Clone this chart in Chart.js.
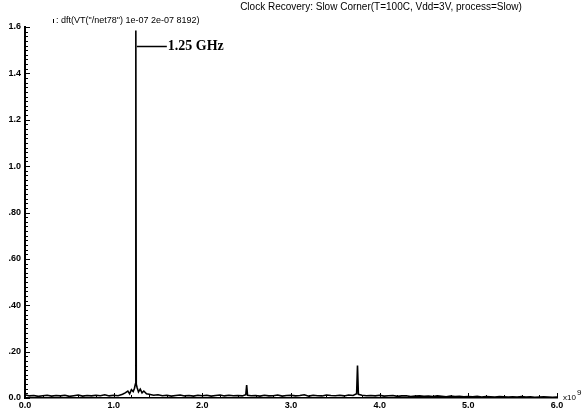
<!DOCTYPE html>
<html>
<head>
<meta charset="utf-8">
<script src="https://cdn.jsdelivr.net/npm/chart.js@4/dist/chart.umd.min.js"></script>
<style>
  html, body { margin: 0; padding: 0; background: #fff; }
  #wrap { width: 584px; height: 413px; position: relative; }
</style>
</head>
<body>
<div id="wrap"><canvas id="spectrum" width="584" height="413"></canvas></div>
<script>
// chart text
const chartTitle = 'Clock Recovery: Slow Corner(T=100C, Vdd=3V, process=Slow)';
const traceLabel = ': dft(VT("/net78") 1e-07 2e-07 8192)';
const peakLabel = '1.25 GHz';
const peakFreq = 1.25;
const peakLabelLevel = 1.52;

// axis tick labels
const xTickLabels = ['0.0', '1.0', '2.0', '3.0', '4.0', '5.0', '6.0'];
const yTickLabels = ['0.0', '.20', '.40', '.60', '.80', '1.0', '1.2', '1.4', '1.6'];

// frequency (GHz, axis shown x10^9) and magnitude
const freqGHz = [
    0.00, 0.05, 0.10, 0.15, 0.20, 0.25, 0.30, 0.35, 0.40, 0.45,
    0.50, 0.55, 0.60, 0.65, 0.70, 0.75, 0.80, 0.85, 0.90, 0.95,
    1.00, 1.05, 1.10, 1.13, 1.16, 1.18, 1.20, 1.22, 1.235, 1.245,
    1.25, 1.255, 1.265, 1.28, 1.30, 1.32, 1.34, 1.37, 1.40, 1.45,
    1.50, 1.55, 1.60, 1.65, 1.70, 1.75, 1.80, 1.85, 1.90, 1.95,
    2.00, 2.05, 2.10, 2.15, 2.20, 2.25, 2.30, 2.35, 2.40, 2.45,
    2.49, 2.50, 2.51, 2.55,
    2.60, 2.65, 2.70, 2.75, 2.80, 2.85, 2.90, 2.95,
    3.00, 3.05, 3.10, 3.15, 3.20, 3.25, 3.30, 3.35, 3.40, 3.45,
    3.50, 3.55, 3.60, 3.65, 3.70, 3.74, 3.75, 3.76, 3.80, 3.85, 3.90, 3.95,
    4.00, 4.05, 4.10, 4.15, 4.20, 4.25, 4.30, 4.35, 4.40, 4.45,
    4.50, 4.55, 4.60, 4.65, 4.70, 4.75, 4.80, 4.85, 4.90, 4.95,
    5.00, 5.05, 5.10, 5.15, 5.20, 5.25, 5.30, 5.35, 5.40, 5.45,
    5.50, 5.55, 5.60, 5.65, 5.70, 5.75, 5.80, 5.85, 5.90, 5.95,
    6.00
];
const magnitude = [
    0.014, 0.009, 0.011, 0.007, 0.010, 0.012, 0.008, 0.011, 0.009, 0.012,
    0.007, 0.010, 0.013, 0.008, 0.011, 0.009, 0.012, 0.010, 0.014, 0.009,
    0.012, 0.010, 0.016, 0.022, 0.030, 0.018, 0.036, 0.028, 0.042, 0.060,
    1.585, 0.060, 0.044, 0.026, 0.038, 0.022, 0.030, 0.018, 0.016, 0.012,
    0.014, 0.010, 0.012, 0.008, 0.011, 0.013, 0.009, 0.011, 0.008, 0.012,
    0.010, 0.012, 0.008, 0.011, 0.013, 0.009, 0.012, 0.010, 0.011, 0.009,
    0.014, 0.056, 0.012, 0.010,
    0.011, 0.008, 0.012, 0.009, 0.010, 0.013, 0.008, 0.011,
    0.012, 0.009, 0.011, 0.014, 0.008, 0.012, 0.010, 0.009, 0.013, 0.011,
    0.010, 0.012, 0.009, 0.013, 0.011, 0.018, 0.140, 0.016, 0.012, 0.010, 0.011, 0.009,
    0.012, 0.008, 0.010, 0.011, 0.007, 0.009, 0.010, 0.006, 0.008, 0.009,
    0.007, 0.008, 0.006, 0.009, 0.007, 0.005, 0.008, 0.006, 0.007, 0.005,
    0.006, 0.005, 0.007, 0.004, 0.006, 0.005, 0.004, 0.006, 0.005, 0.004,
    0.005, 0.004, 0.006, 0.004, 0.005, 0.003, 0.004, 0.005, 0.004, 0.003,
    0.004
];

// inside minor ticks, titles, legend text and the peak note
const decorations = {
    id: 'decorations',
    afterDraw(chart) {
        const { ctx, chartArea: area, scales: { x, y } } = chart;
        ctx.save();
        ctx.strokeStyle = '#000';
        ctx.lineWidth = 1;

        // y axis ticks, pointing into the plot
        for (let i = 0; i <= 80; i++) {
            const py = Math.round(y.getPixelForValue(i * 0.02)) + 0.5;
            const len = i % 10 === 0 ? 5 : 3;
            ctx.beginPath();
            ctx.moveTo(area.left, py);
            ctx.lineTo(area.left + len, py);
            ctx.stroke();
        }
        // x axis ticks, pointing up
        for (let i = 0; i <= 30; i++) {
            const px = Math.round(x.getPixelForValue(i * 0.2)) + 0.5;
            const len = i % 5 === 0 ? 5 : 3;
            ctx.beginPath();
            ctx.moveTo(px, area.bottom);
            ctx.lineTo(px, area.bottom - len);
            ctx.stroke();
        }

        ctx.fillStyle = '#000';
        ctx.textBaseline = 'middle';

        // title
        ctx.font = '10px "Liberation Sans", Arial, sans-serif';
        ctx.textAlign = 'center';
        ctx.fillText(chartTitle, 381, 7);

        // trace legend
        ctx.font = '9px "Liberation Sans", Arial, sans-serif';
        ctx.textAlign = 'left';
        ctx.beginPath();
        ctx.moveTo(53.5, 19);
        ctx.lineTo(53.5, 23);
        ctx.stroke();
        ctx.fillText(traceLabel, 56, 21);

        // x10^9 multiplier
        ctx.font = '8px "Liberation Sans", Arial, sans-serif';
        ctx.fillText('x10', 563, 398);
        ctx.fillText('9', 577, 393);

        // 1.25 GHz note
        const nx = x.getPixelForValue(peakFreq);
        const ny = Math.round(y.getPixelForValue(peakLabelLevel)) + 0.5;
        ctx.lineWidth = 1.5;
        ctx.beginPath();
        ctx.moveTo(nx + 1, ny);
        ctx.lineTo(nx + 31, ny);
        ctx.stroke();
        ctx.font = 'bold 14px "Liberation Serif", "Times New Roman", serif';
        ctx.fillText(peakLabel, nx + 32, ny);

        ctx.restore();
    }
};

new Chart(document.getElementById('spectrum'), {
    type: 'line',
    data: {
        datasets: [{
            data: freqGHz.map((f, i) => ({ x: f, y: magnitude[i] })),
            borderColor: '#000',
            borderWidth: 1.6,
            pointRadius: 0,
            tension: 0,
            fill: false
        }]
    },
    options: {
        responsive: false,
        animation: false,
        devicePixelRatio: 1,
        layout: { padding: { top: 27, right: 27, left: 0, bottom: 0 } },
        plugins: {
            legend: { display: false },
            tooltip: { enabled: false }
        },
        scales: {
            x: {
                type: 'linear',
                min: 0,
                max: 6,
                afterFit: s => { s.height = 15; },
                grid: { drawOnChartArea: false, drawTicks: false },
                border: { color: '#000', width: 1.5 },
                ticks: {
                    stepSize: 1,
                    padding: 2,
                    color: '#000',
                    font: { family: '"Liberation Sans", Arial, sans-serif', size: 9, weight: 'bold' },
                    maxRotation: 0,
                    callback: (v, i) => xTickLabels[i]
                }
            },
            y: {
                min: 0,
                max: 1.6,
                afterFit: s => { s.width = 25; },
                grid: { drawOnChartArea: false, drawTicks: false },
                border: { color: '#000', width: 2 },
                ticks: {
                    stepSize: 0.2,
                    padding: 4,
                    color: '#000',
                    font: { family: '"Liberation Sans", Arial, sans-serif', size: 9, weight: 'bold' },
                    callback: (v, i) => yTickLabels[i]
                }
            }
        }
    },
    plugins: [decorations]
});
</script>
</body>
</html>
